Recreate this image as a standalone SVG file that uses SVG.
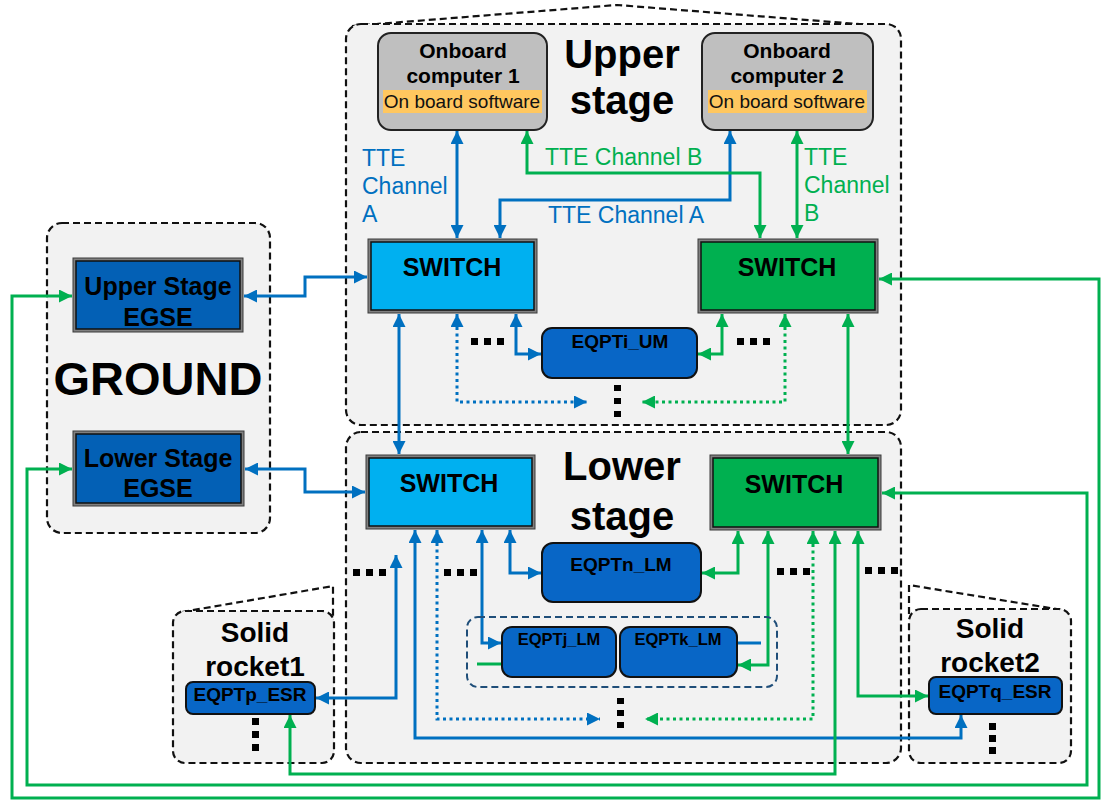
<svg xmlns="http://www.w3.org/2000/svg" width="1105" height="800" viewBox="0 0 1105 800">
  <style>
    text { font-family: "Liberation Sans", Arial, sans-serif; }
    .zone { fill: #F2F2F2; stroke: #111; stroke-width: 2.2; stroke-dasharray: 7 4; }
    .roof { fill: none; stroke: #111; stroke-width: 2.2; stroke-dasharray: 7 4; }
    .title { font-weight: bold; fill: #000; text-anchor: middle; }
    .frame { fill: #808080; stroke: #3a3a3a; stroke-width: 1; }
    .core { stroke: #111; stroke-width: 1.5; }
    .sw-blue { fill: #00B0F0; }
    .sw-green { fill: #00B050; }
    .egse { fill: #0360B5; }
    .eqpt { fill: #0866C6; stroke: #111; stroke-width: 2; }
    .obc { fill: #BFBFBF; stroke: #222; stroke-width: 2; }
    .hl { fill: #FFC75F; }
    .lbl { font-weight: bold; fill: #000; text-anchor: middle; }
    .b { fill: none; stroke: #0070C0; stroke-width: 3; }
    .g { fill: none; stroke: #00B050; stroke-width: 3; }
    .dot { stroke-dasharray: 3 3.5; }
    .ba { marker-start: url(#ab); marker-end: url(#ab); }
    .ga { marker-start: url(#ag); marker-end: url(#ag); }
    .tb { fill: #0070C0; font-size: 23px; }
    .tg { fill: #00B050; font-size: 23px; }
    .ell { fill: #000; }
  </style>
  <defs>
    <marker id="ab" viewBox="0 0 12 12" refX="12" refY="6" markerWidth="13" markerHeight="13" markerUnits="userSpaceOnUse" orient="auto-start-reverse">
      <path d="M0,0 L12,6 L0,12 z" fill="#0070C0"/>
    </marker>
    <marker id="ag" viewBox="0 0 12 12" refX="12" refY="6" markerWidth="13" markerHeight="13" markerUnits="userSpaceOnUse" orient="auto-start-reverse">
      <path d="M0,0 L12,6 L0,12 z" fill="#00B050"/>
    </marker>
  </defs>

  <!-- zones -->
  <g id="zone-upper">
    <path class="roof" d="M352,26 L617,5 L896,27"/>
    <rect class="zone" x="346" y="24" width="555" height="401" rx="15"/>
    <text class="title" x="622" y="68" font-size="40">Upper</text>
    <text class="title" x="622" y="114" font-size="40">stage</text>
  </g>
  <g id="zone-lower">
    <rect class="zone" x="346" y="432" width="555" height="331" rx="15"/>
    <text class="title" x="622" y="480" font-size="40">Lower</text>
    <text class="title" x="622" y="530" font-size="40">stage</text>
  </g>
  <g id="zone-ground">
    <rect class="zone" x="47" y="223" width="223" height="310" rx="15"/>
    <text class="title" x="158" y="395" font-size="47">GROUND</text>
  </g>
  <g id="zone-rocket1">
    <path class="roof" d="M182,612 L333,586 L333,620"/>
    <rect class="zone" x="173" y="611" width="161" height="152" rx="12"/>
    <text class="title" x="255" y="642" font-size="28">Solid</text>
    <text class="title" x="255" y="676" font-size="28">rocket1</text>
  </g>
  <g id="zone-rocket2">
    <path class="roof" d="M909,614 L909,585 L1062,610"/>
    <rect class="zone" x="909" y="609" width="162" height="154" rx="12"/>
    <text class="title" x="990" y="638" font-size="28">Solid</text>
    <text class="title" x="990" y="672" font-size="28">rocket2</text>
  </g>

  <!-- connectors -->
  <g id="connectors">
    <!-- blue network -->
    <path class="b ba" d="M457,131 V238"/>
    <path class="b ba" d="M730,131 V200 H500 V238"/>
    <path class="b ba" d="M244,296 H305 V277 H367"/>
    <path class="b ba" d="M245,469 H305 V492 H365"/>
    <path class="b ba" d="M399,314 V454"/>
    <path class="b ba dot" d="M457,314 V402 H587"/>
    <path class="b ba" d="M516,314 V354 H541"/>
    <path class="b ba" d="M316,698 H396 V555"/>
    <path class="b ba" d="M415,530 V738 H961 V715"/>
    <path class="b ba dot" d="M437,530 V719 H600"/>
    <path class="b ba" d="M482,530 V643 H501"/>
    <path class="b ba" d="M510,530 V573 H541"/>
    <path class="b" d="M738,643 H761"/>
    <!-- green network -->
    <path class="g ga" d="M527,131 V173 H760 V238"/>
    <path class="g ga" d="M797,131 V238"/>
    <path class="g ga" d="M848,314 V454"/>
    <path class="g ga dot" d="M785,314 V402 H642"/>
    <path class="g ga" d="M722,314 V354 H698"/>
    <path class="g ga" d="M72,296 H12 V798 H1099 V279 H879"/>
    <path class="g ga" d="M72,469 H27 V785 H1087 V493 H882"/>
    <path class="g ga" d="M738,531 V573 H702"/>
    <path class="g ga" d="M768,531 V665 H738"/>
    <path class="g ga dot" d="M813,531 V719 H645"/>
    <path class="g ga" d="M835,531 V774 H290 V715"/>
    <path class="g ga" d="M858,531 V696 H928"/>
    <path class="g" d="M477,664 H501"/>
  </g>

  <!-- channel labels -->
  <g id="labels">
    <text class="tb" x="362" y="166">TTE</text>
    <text class="tb" x="362" y="194">Channel</text>
    <text class="tb" x="362" y="222">A</text>
    <text class="tg" x="545" y="165">TTE Channel B</text>
    <text class="tb" x="548" y="223">TTE Channel A</text>
    <text class="tg" x="804" y="165">TTE</text>
    <text class="tg" x="804" y="193">Channel</text>
    <text class="tg" x="804" y="221">B</text>
  </g>

  <!-- continuation marks -->
  <g id="ellipses" class="ell">
    <rect x="471" y="338" width="7" height="7"/><rect x="484" y="338" width="7" height="7"/><rect x="497" y="338" width="7" height="7"/>
    <rect x="737" y="338" width="7" height="7"/><rect x="750" y="338" width="7" height="7"/><rect x="763" y="338" width="7" height="7"/>
    <rect x="614" y="385" width="7" height="6"/><rect x="614" y="398" width="7" height="6"/><rect x="614" y="411" width="7" height="6"/>
    <rect x="353" y="569" width="7" height="7"/><rect x="366" y="569" width="7" height="7"/><rect x="379" y="569" width="7" height="7"/>
    <rect x="444" y="569" width="7" height="7"/><rect x="457" y="569" width="7" height="7"/><rect x="470" y="569" width="7" height="7"/>
    <rect x="777" y="568" width="7" height="7"/><rect x="790" y="568" width="7" height="7"/><rect x="803" y="568" width="7" height="7"/>
    <rect x="865" y="567" width="7" height="7"/><rect x="878" y="567" width="7" height="7"/><rect x="891" y="567" width="7" height="7"/>
    <rect x="617" y="698" width="7" height="6"/><rect x="617" y="710" width="7" height="6"/><rect x="617" y="722" width="7" height="6"/>
    <rect x="252" y="718" width="7" height="7"/><rect x="252" y="731" width="7" height="7"/><rect x="252" y="744" width="7" height="7"/>
    <rect x="989" y="723" width="7" height="7"/><rect x="989" y="735" width="7" height="7"/><rect x="989" y="747" width="7" height="7"/>
  </g>

  <!-- onboard computers -->
  <g id="obc1">
    <rect class="obc" x="378" y="33" width="169" height="97" rx="13"/>
    <rect class="hl" x="383" y="90" width="159" height="23"/>
    <text class="lbl" x="463" y="58" font-size="21">Onboard</text>
    <text class="lbl" x="463" y="83" font-size="21">computer 1</text>
    <text x="462" y="108" font-size="19" text-anchor="middle" fill="#111">On board software</text>
  </g>
  <g id="obc2">
    <rect class="obc" x="702" y="33" width="171" height="97" rx="13"/>
    <rect class="hl" x="708" y="90" width="159" height="23"/>
    <text class="lbl" x="787" y="58" font-size="21">Onboard</text>
    <text class="lbl" x="787" y="83" font-size="21">computer 2</text>
    <text x="787" y="108" font-size="19" text-anchor="middle" fill="#111">On board software</text>
  </g>

  <!-- switches -->
  <g id="switch-upper-a">
    <rect class="frame" x="368" y="239" width="169" height="74"/>
    <rect class="core sw-blue" x="371" y="242" width="163" height="68"/>
    <text class="lbl" x="452" y="276" font-size="25">SWITCH</text>
  </g>
  <g id="switch-upper-b">
    <rect class="frame" x="698" y="239" width="180" height="74"/>
    <rect class="core sw-green" x="701" y="242" width="174" height="68"/>
    <text class="lbl" x="787" y="276" font-size="25">SWITCH</text>
  </g>
  <g id="switch-lower-a">
    <rect class="frame" x="366" y="455" width="169" height="74"/>
    <rect class="core sw-blue" x="369" y="458" width="163" height="68"/>
    <text class="lbl" x="449" y="492" font-size="25">SWITCH</text>
  </g>
  <g id="switch-lower-b">
    <rect class="frame" x="710" y="455" width="171" height="75"/>
    <rect class="core sw-green" x="713" y="458" width="165" height="69"/>
    <text class="lbl" x="794" y="493" font-size="25">SWITCH</text>
  </g>

  <!-- ground equipment -->
  <g id="egse-upper">
    <rect class="frame" x="73" y="258" width="170" height="74"/>
    <rect class="core egse" x="76" y="261" width="164" height="68"/>
    <text class="lbl" x="158" y="295" font-size="25">Upper Stage</text>
    <text class="lbl" x="158" y="326" font-size="25">EGSE</text>
  </g>
  <g id="egse-lower">
    <rect class="frame" x="73" y="431" width="171" height="75"/>
    <rect class="core egse" x="76" y="434" width="165" height="69"/>
    <text class="lbl" x="158" y="467" font-size="25">Lower Stage</text>
    <text class="lbl" x="158" y="497" font-size="25">EGSE</text>
  </g>

  <!-- equipment -->
  <g id="eqpt-i-um">
    <rect class="eqpt" x="542" y="328" width="155" height="50" rx="10"/>
    <text class="lbl" x="620" y="348" font-size="19">EQPTi_UM</text>
  </g>
  <g id="eqpt-n-lm">
    <rect class="eqpt" x="542" y="543" width="159" height="59" rx="11"/>
    <text class="lbl" x="621" y="571" font-size="19">EQPTn_LM</text>
  </g>
  <g id="eqpt-group">
    <rect x="467" y="617" width="310" height="70" rx="11" fill="none" stroke="#1F4E79" stroke-width="2" stroke-dasharray="7 4"/>
  </g>
  <g id="eqpt-j-lm">
    <rect class="eqpt" x="502" y="627" width="114" height="50" rx="10"/>
    <text class="lbl" x="559" y="645" font-size="16.5">EQPTj_LM</text>
  </g>
  <g id="eqpt-k-lm">
    <rect class="eqpt" x="620" y="627" width="117" height="50" rx="10"/>
    <text class="lbl" x="678" y="645" font-size="16.5">EQPTk_LM</text>
  </g>
  <g id="eqpt-p-esr">
    <rect class="eqpt" x="186" y="682" width="129" height="32" rx="7"/>
    <text class="lbl" x="250" y="701" font-size="19">EQPTp_ESR</text>
  </g>
  <g id="eqpt-q-esr">
    <rect class="eqpt" x="929" y="677" width="133" height="37" rx="7"/>
    <text class="lbl" x="995" y="698" font-size="19">EQPTq_ESR</text>
  </g>
</svg>
